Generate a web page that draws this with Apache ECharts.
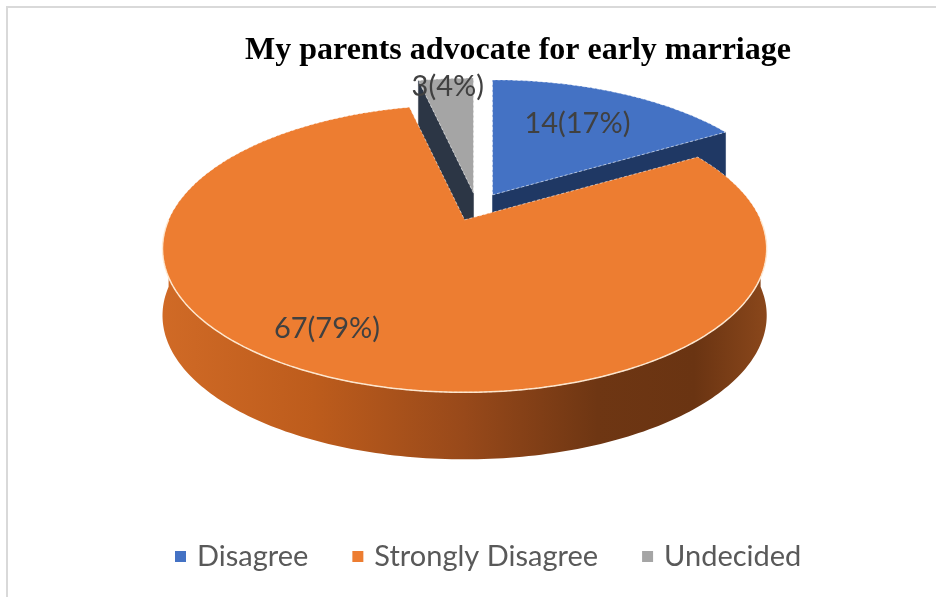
<!DOCTYPE html>
<html>
<head>
<meta charset="utf-8">
<script src="https://cdn.jsdelivr.net/npm/echarts@6/dist/echarts.min.js"></script>
<style>
  html, body { margin: 0; padding: 0; background: #fff; }
  #chart { width: 936px; height: 597px; }
</style>
</head>
<body>
<div id="chart"></div>
<script>
// Survey responses: "My parents advocate for early marriage"
const categories = ['Disagree', 'Strongly Disagree', 'Undecided'];
const counts = [14, 67, 3];
const percentLabels = [17, 79, 4];

// Slice colours (top face / cut side)
const topColors = ['#4472C4', '#ED7D31', '#A5A5A5'];
const sideColors = ['#1F3864', '#A0501A', '#2C3645'];

// Tilted-pie geometry (pixels)
const PIE = {
  cx: 477, cy: 207,      // centre of the top face before explosion
  rx: 296, ry: 138,      // horizontal / vertical radii
  persp: 0.2,            // far side shrink factor
  depth: 67,             // thickness of the disc
  explodeX: 31, explodeY: 14
};

// Where each value label sits: angle shift (deg) from slice middle and radius fraction
const LABEL_SPOT = [
  { shift: -1, frac: 0.66 },
  { shift: 7, frac: 0.79 },
  { shift: 0, frac: 0.92 }
];

const total = counts.reduce((a, b) => a + b, 0);
const rad = d => d * Math.PI / 180;

// Angles are measured clockwise from 12 o'clock
function sliceAngles(idx, value) {
  let before = 0;
  for (let i = 0; i < idx; i++) before += counts[i];
  const a1 = before / total * 360;
  const a2 = (before + value) / total * 360;
  return [a1, a2];
}

function project(ox, oy, thetaDeg, frac, dz) {
  const t = rad(thetaDeg);
  const c = Math.cos(t), s = Math.sin(t);
  const p = 1 / (1 + PIE.persp * frac * c);
  return [
    PIE.cx + ox + PIE.rx * frac * s * p,
    PIE.cy + oy - PIE.ry * frac * c * p + (dz || 0)
  ];
}

function arcPoints(ox, oy, from, to, dz) {
  const pts = [];
  const n = Math.max(2, Math.ceil(Math.abs(to - from)));
  for (let k = 0; k <= n; k++) {
    pts.push(project(ox, oy, from + (to - from) * k / n, 1, dz));
  }
  return pts;
}

// Back slices are painted first
function paintOrder() {
  const mids = counts.map((v, i) => {
    const [a1, a2] = sliceAngles(i, v);
    return { i, depthKey: Math.cos(rad((a1 + a2) / 2)) };
  });
  mids.sort((a, b) => b.depthKey - a.depthKey);
  const order = [];
  mids.forEach((m, k) => { order[m.i] = k; });
  return order;
}
const ORDER = paintOrder();

function sideGradient(base) {
  if (base === '#A0501A') {
    return new echarts.graphic.LinearGradient(0, 0, 1, 0, [
      { offset: 0, color: '#D06A26' },
      { offset: 0.25, color: '#BD5C1C' },
      { offset: 0.5, color: '#98491A' },
      { offset: 0.72, color: '#6E3613' },
      { offset: 0.88, color: '#6A3412' },
      { offset: 1, color: '#8A471B' }
    ]);
  }
  return base;
}

function makeRenderer(idx) {
  return function (params, api) {
    const value = api.value(0);
    const [a1, a2] = sliceAngles(idx, value);
    const mid = (a1 + a2) / 2;
    const ox = PIE.explodeX * Math.sin(rad(mid));
    const oy = -PIE.explodeY * Math.cos(rad(mid));
    const base = ORDER[idx] * 10;
    const apex = project(ox, oy, 0, 0, 0);
    const apexLow = project(ox, oy, 0, 0, PIE.depth);
    const children = [];

    // cut faces that turn towards the viewer
    const addCut = (ang) => {
      const e = project(ox, oy, ang, 1, 0);
      const eLow = project(ox, oy, ang, 1, PIE.depth);
      children.push({
        type: 'polygon', z2: base + 1,
        shape: { points: [apex, e, eLow, apexLow] },
        style: { fill: sideColors[idx], stroke: sideColors[idx], lineWidth: 0.5 }
      });
    };
    if (Math.sin(rad(a1)) < -1e-6) addCut(a1);
    if (Math.sin(rad(a2)) > 1e-6) addCut(a2);

    // curved outer wall on the near half
    const f1 = Math.max(a1, 90), f2 = Math.min(a2, 270);
    if (f2 > f1) {
      const upper = arcPoints(ox, oy, f1, f2, 0);
      const lower = arcPoints(ox, oy, f1, f2, PIE.depth).reverse();
      children.push({
        type: 'polygon', z2: base + 2,
        shape: { points: upper.concat(lower) },
        style: { fill: sideGradient(sideColors[idx]) }
      });
    }

    // top face
    const rim = arcPoints(ox, oy, a1, a2, 0);
    children.push({
      type: 'polygon', z2: base + 3,
      shape: { points: [apex].concat(rim) },
      style: { fill: topColors[idx], stroke: 'rgba(255,255,255,0.55)', lineWidth: 1, lineDash: [3, 2] }
    });
    // light bevel along the near rim
    if (f2 > f1) {
      children.push({
        type: 'polyline', z2: base + 4,
        shape: { points: arcPoints(ox, oy, f1, f2, 0) },
        style: { fill: null, stroke: 'rgba(255,236,214,0.9)', lineWidth: 1.5 }
      });
    }

    // value label
    const spot = LABEL_SPOT[idx];
    const lp = project(ox, oy, mid + spot.shift, spot.frac, 0);
    children.push({
      type: 'text', z2: 100,
      style: {
        text: value + '(' + percentLabels[idx] + '%)',
        x: lp[0], y: lp[1],
        fill: '#404040',
        font: '29px Lato',
        align: 'center', verticalAlign: 'middle'
      }
    });

    return { type: 'group', children };
  };
}

const chart = echarts.init(document.getElementById('chart'));
chart.setOption({
  animation: false,
  backgroundColor: '#ffffff',
  color: topColors,
  title: {
    text: 'My parents advocate for early marriage',
    left: 513, top: 30, textAlign: 'center',
    textStyle: { fontFamily: 'Liberation Serif', fontWeight: 'bold', fontSize: 32, color: '#000' }
  },
  legend: {
    data: categories,
    left: 170, top: 537,
    icon: 'rect', itemWidth: 11, itemHeight: 11, itemGap: 44,
    textStyle: { fontFamily: 'Lato', fontSize: 29, color: '#595959', padding: [0, 0, 0, 6] }
  },
  graphic: [{
    type: 'rect', silent: true,
    shape: { x: 7, y: 7, width: 1200, height: 1200 },
    style: { fill: null, stroke: '#D9D9D9', lineWidth: 2 }
  }],
  series: categories.map((name, i) => ({
    type: 'custom',
    name,
    coordinateSystem: 'none',
    itemStyle: { color: topColors[i] },
    renderItem: makeRenderer(i),
    data: [[counts[i]]]
  }))
});
</script>
</body>
</html>
